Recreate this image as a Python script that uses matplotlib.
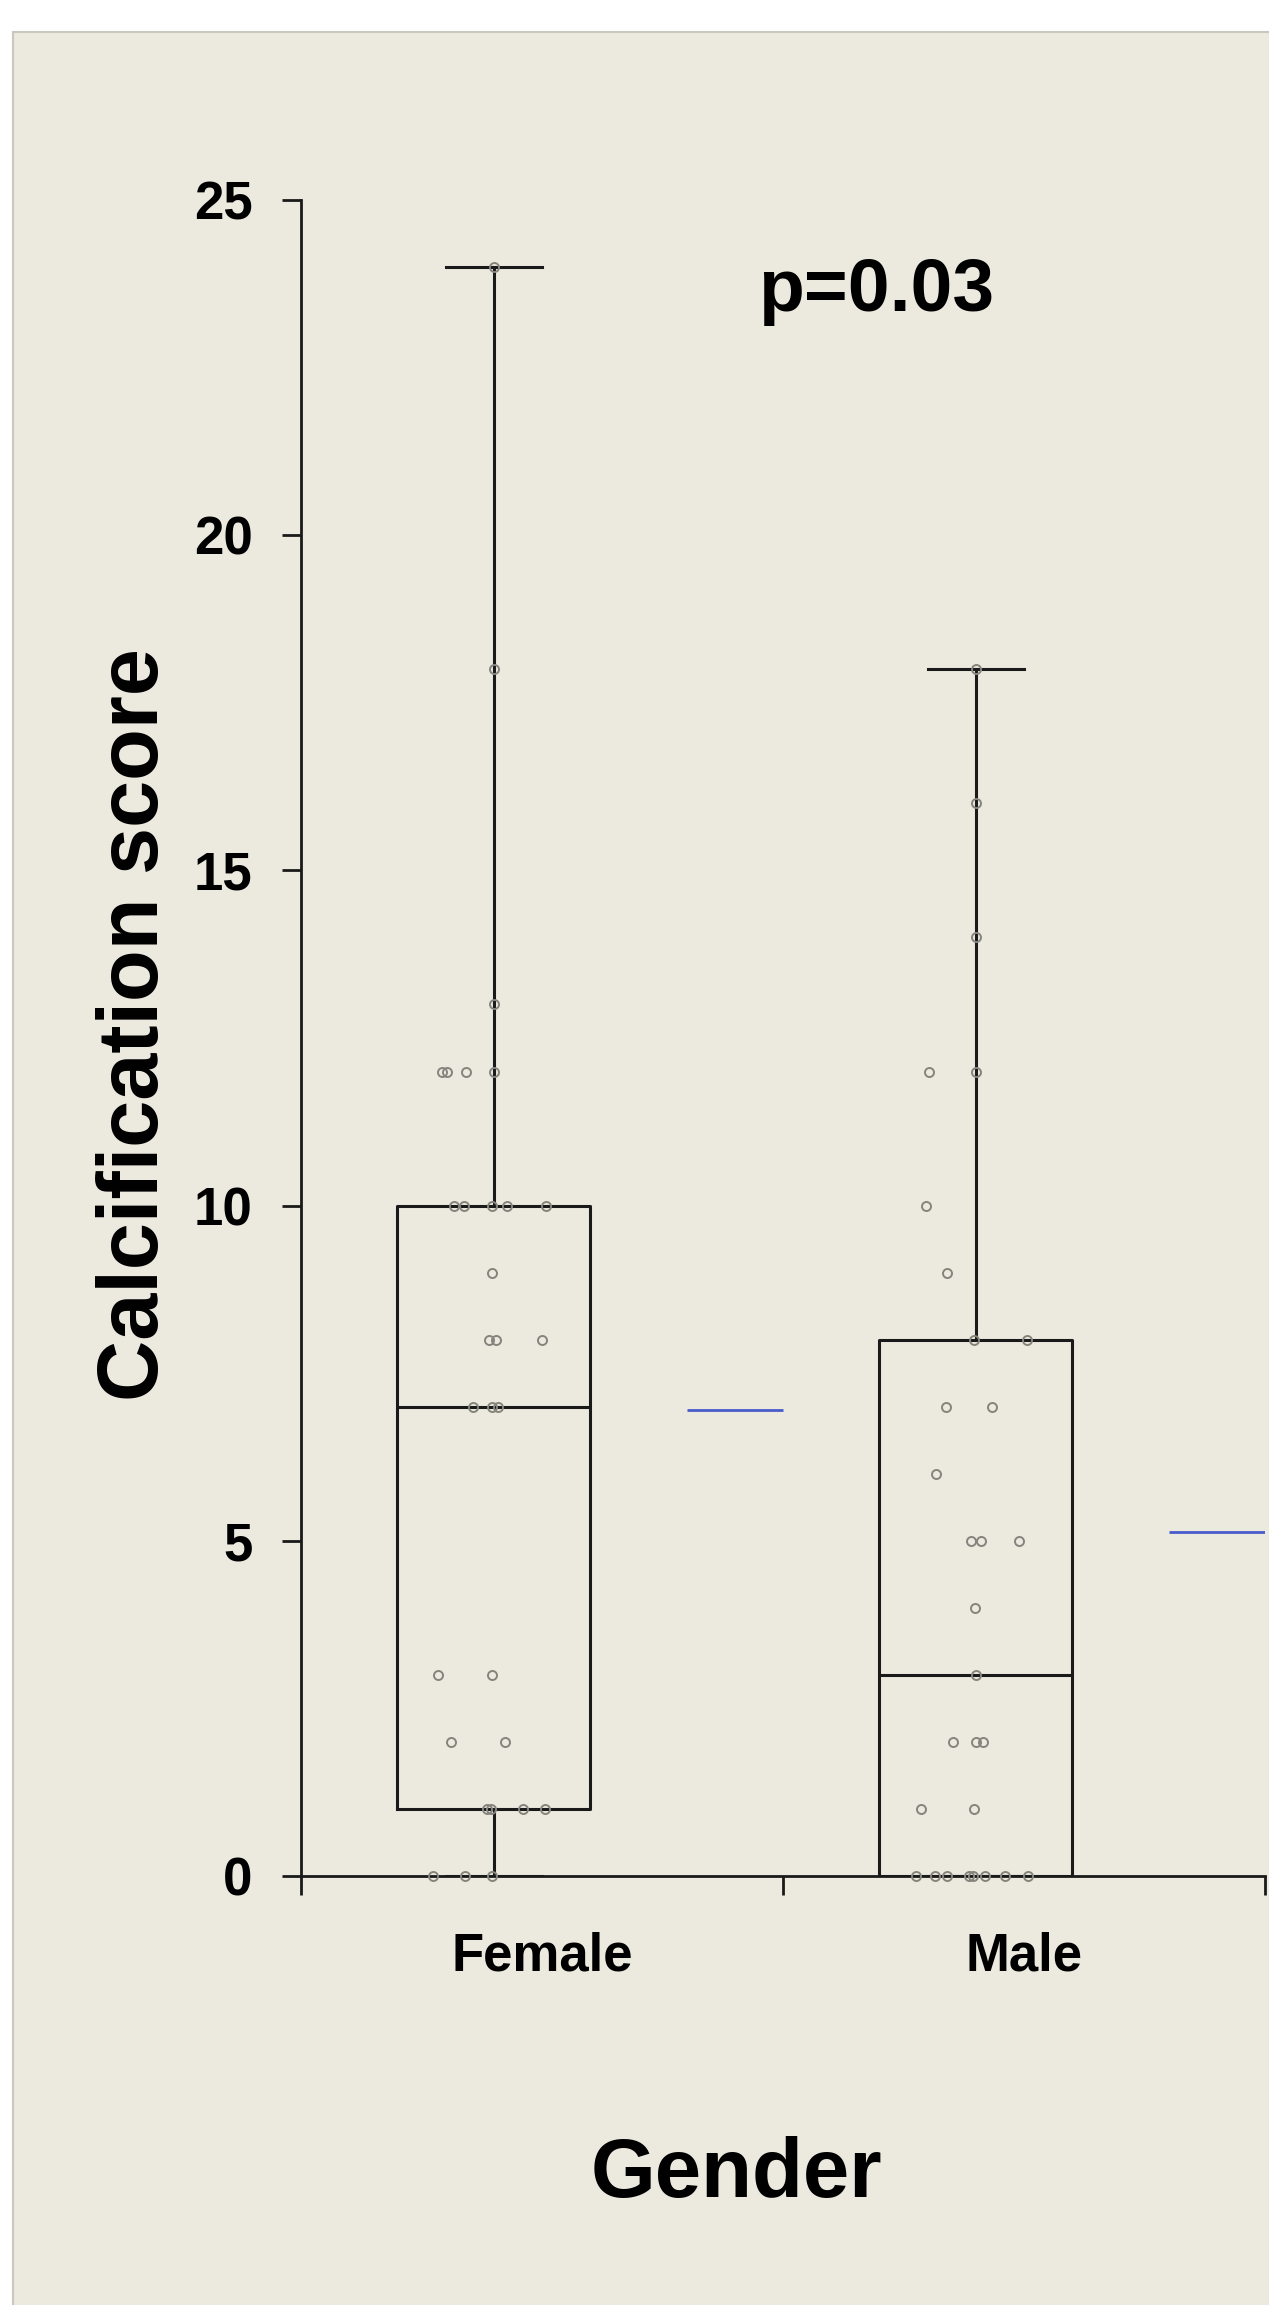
import numpy as np
import matplotlib
matplotlib.use("Agg")
import matplotlib.pyplot as plt
from matplotlib.patches import Rectangle

plt.rcParams['font.family'] = ['Liberation Sans', 'DejaVu Sans']
plt.rcParams['font.weight'] = 'bold'

# data
groups = ['Female', 'Male']
female_scores = [24, 18, 13, 12, 12, 12, 12, 10, 10, 10, 10, 10, 9, 8, 8, 8,
                 7, 7, 7, 3, 3, 2, 2, 1, 1, 1, 1, 0, 0, 0]
female_xpos = [0.40, 0.40, 0.40, 0.293, 0.303, 0.343, 0.40, 0.318, 0.339, 0.397, 0.428, 0.509,
               0.397, 0.39, 0.405, 0.50, 0.356, 0.397, 0.408, 0.284, 0.396, 0.311, 0.424,
               0.385, 0.395, 0.461, 0.507, 0.273, 0.341, 0.396]
male_scores = [18, 16, 14, 12, 12, 10, 9, 8, 8, 7, 7, 6, 5, 5, 5, 4, 3, 2, 2, 2,
               1, 1, 0, 0, 0, 0, 0, 0, 0, 0]
male_xpos = [1.40, 1.40, 1.40, 1.302, 1.40, 1.297, 1.341, 1.397, 1.506, 1.339, 1.434, 1.318,
             1.39, 1.41, 1.49, 1.398, 1.40, 1.352, 1.40, 1.415, 1.287, 1.397,
             1.276, 1.315, 1.34, 1.386, 1.394, 1.42, 1.46, 1.508]

# box stats (min, q1, median, q3, max) and group means
box_min = [0, 0]
box_q1 = [1, 0]
box_med = [7, 3]
box_q3 = [10, 8]
box_max = [24, 18]
group_means = [6.95, 5.13]

box_pos = [0.4, 1.4]
yticks = [0, 5, 10, 15, 20, 25]

W, H = 1269, 2305
fig = plt.figure(figsize=(W / 100, H / 100), dpi=100)
fig.patch.set_facecolor('white')

# beige panel behind the chart
panel = Rectangle((13 / W, -0.01), 1.0, 1 - 32 / H + 0.01, transform=fig.transFigure,
                  facecolor='#ECE9DF', edgecolor='#C9C7BF', linewidth=1.5, zorder=-10)
fig.add_artist(panel)

ax = fig.add_axes([301 / W, 1 - 1876 / H, 964 / W, 1676 / H])
ax.set_facecolor('none')
ax.set_zorder(1)

stats = []
for i in range(len(groups)):
    stats.append(dict(whislo=box_min[i], q1=box_q1[i], med=box_med[i],
                      q3=box_q3[i], whishi=box_max[i], fliers=[]))

line_col = '#1a1a1a'
ax.bxp(stats, positions=box_pos, widths=0.4, capwidths=0.2, showfliers=False,
       boxprops=dict(color=line_col, linewidth=2.2),
       whiskerprops=dict(color=line_col, linewidth=2.2),
       capprops=dict(color=line_col, linewidth=2.2),
       medianprops=dict(color=line_col, linewidth=2.2))

# mean markers to the right of each box
for p, m in zip(box_pos, group_means):
    ax.hlines(m, p + 0.4, p + 0.6, color='#4A5BCB', linewidth=2.0, zorder=3)

# individual points
for xs, ys in [(female_xpos, female_scores), (male_xpos, male_scores)]:
    ax.plot(xs, ys, 'o', ms=6.5, mfc='none', mec='#85847D', mew=1.4,
            clip_on=False, zorder=4)

ax.set_xlim(0, 2)
ax.set_ylim(0, 25)

for s in ['top', 'right']:
    ax.spines[s].set_visible(False)
for s in ['left', 'bottom']:
    ax.spines[s].set_color(line_col)
    ax.spines[s].set_linewidth(2.0)

ax.set_yticks(yticks)
ax.set_yticklabels([str(t) for t in yticks], fontsize=38, fontweight='bold')
ax.tick_params(axis='y', direction='out', length=14, width=2.0, pad=21, colors=line_col,
               labelcolor='black')

ax.set_xticks([0, 1, 2])
ax.set_xticklabels([])
ax.set_xticks([0.5, 1.5], minor=True)
ax.set_xticklabels(groups, minor=True, fontsize=38, fontweight='bold')
ax.tick_params(axis='x', which='major', direction='out', length=14, width=2.0, colors=line_col)
ax.tick_params(axis='x', which='minor', length=0, pad=40, labelcolor='black')

ax.text(1.193, 23.34, 'p=0.03', ha='center', va='baseline', fontsize=54, fontweight='bold')

fig.text(136 / W, 1 - 1025 / H, 'Calcification score', rotation=90, ha='center',
         va='center', fontsize=61, fontweight='bold')
fig.text(736 / W, 1 - 2197 / H, 'Gender', ha='center', va='baseline', fontsize=60,
         fontweight='bold')

fig.savefig('out.png', dpi=100)
